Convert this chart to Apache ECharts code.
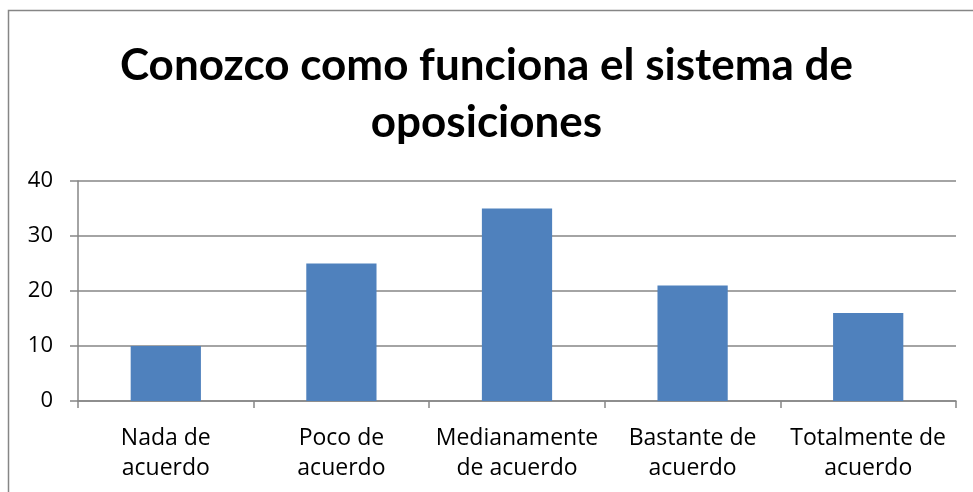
<!DOCTYPE html>
<html>
<head>
<meta charset="utf-8">
<script src="https://cdn.jsdelivr.net/npm/echarts@6/dist/echarts.min.js"></script>
<style>
  html, body { margin: 0; padding: 0; background: #fff; }
  #chart { width: 973px; height: 492px; }
</style>
</head>
<body>
<div id="chart"></div>
<script>
// Survey answers: agreement with "I know how the exam system works"
const chartTitle = 'Conozco como funciona el sistema de\noposiciones';
const categories = ['Nada de\nacuerdo', 'Poco de\nacuerdo', 'Medianamente\nde acuerdo', 'Bastante de\nacuerdo', 'Totalmente de\nacuerdo'];
const values = [10, 25, 35, 21, 16];
const yMin = 0, yMax = 40, yStep = 10;

const TITLE_FONT = 'Lato, "Open Sans", sans-serif';
const LABEL_FONT = '"Open Sans", Lato, sans-serif';
const GRAY = '#868686';

const chart = echarts.init(document.getElementById('chart'), null, { renderer: 'canvas' });
chart.setOption({
  animation: false,
  backgroundColor: '#ffffff',
  title: {
    text: chartTitle,
    left: 'center',
    top: 32,
    textStyle: {
      fontFamily: TITLE_FONT,
      fontWeight: 'bold',
      fontSize: 44,
      lineHeight: 57,
      color: '#000'
    }
  },
  graphic: [{
    type: 'rect',
    shape: { x: 8.5, y: 10.5, width: 1200, height: 1200 },
    style: { fill: 'none', stroke: GRAY, lineWidth: 1.5 },
    silent: true
  }],
  grid: { left: 78, top: 181, right: 17, bottom: 91 },
  xAxis: {
    type: 'category',
    data: categories,
    axisLine: { lineStyle: { color: GRAY, width: 1.5 } },
    axisTick: { show: true, alignWithLabel: false, length: 7, lineStyle: { color: GRAY, width: 1.5 } },
    axisLabel: {
      margin: 22,
      color: '#000',
      fontFamily: LABEL_FONT,
      fontSize: 23,
      lineHeight: 30,
      interval: 0
    }
  },
  yAxis: {
    type: 'value',
    min: yMin,
    max: yMax,
    interval: yStep,
    axisLine: { show: true, lineStyle: { color: GRAY, width: 1.5 } },
    axisTick: { show: true, length: 8, lineStyle: { color: GRAY, width: 1.5 } },
    splitLine: { lineStyle: { color: GRAY, width: 1.5 } },
    axisLabel: {
      margin: 25,
      color: '#000',
      fontFamily: LABEL_FONT,
      fontSize: 22
    }
  },
  series: [{
    type: 'bar',
    data: values,
    barWidth: '40%',
    itemStyle: { color: '#4F81BD' }
  }]
});
</script>
</body>
</html>
